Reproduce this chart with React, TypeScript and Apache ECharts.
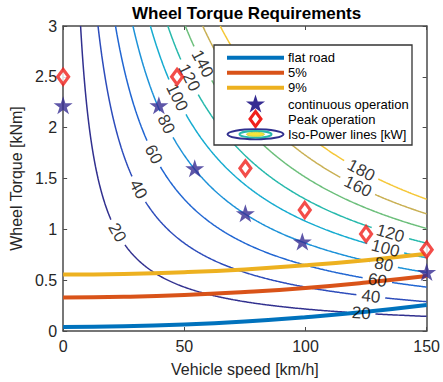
import React, { useEffect, useRef } from "react";
import * as echarts from "echarts";

// ---- data ----
const SPEED_SAMPLES = [0, 25, 50, 75, 100, 125, 150]; // km/h
const FLAT_ROAD = [0.04, 0.046, 0.064, 0.094, 0.136, 0.189, 0.255]; // kNm
const SLOPE_5 = [0.33, 0.336, 0.353, 0.383, 0.423, 0.476, 0.54];
const SLOPE_9 = [0.555, 0.561, 0.578, 0.606, 0.646, 0.697, 0.76];

const CONT_SPEED = [0, 39.5, 54.3, 75.2, 98.7, 150];
const CONT_TORQUE = [2.22, 2.22, 1.6, 1.157, 0.88, 0.58];
const PEAK_SPEED = [0, 47, 75.2, 99.7, 125, 150];
const PEAK_TORQUE = [2.5, 2.5, 1.6, 1.19, 0.954, 0.8];

const POWER_LEVELS = [20, 40, 60, 80, 100, 120, 140, 160, 180]; // kW
const LEVEL_COLORS = ["#31308f", "#2d4cbb", "#2166d2", "#1d92d8", "#17acd0", "#27b9ac", "#6cbf7b", "#c9b054", "#f5c737"];
const LABEL_SPEEDS: number[][] = [[22.3, 123], [31, 127], [37.3, 129.7], [42.5, 132.3], [47, 133], [52, 135], [57.5], [121.6], [123]];
const WHEEL_RADIUS = 0.3; // m

const X_TICKS = { min: 0, max: 150, interval: 50 };
const Y_TICKS = { min: 0, max: 3, interval: 0.5 };

// ---- layout ----
const W = 443, H = 382;
const GRID = { left: 60.5, right: 11, top: 26, bottom: 49 };
const PX_PER_KMH = (W - GRID.left - GRID.right) / X_TICKS.max;
const PX_PER_KNM = (H - GRID.top - GRID.bottom) / Y_TICKS.max;
const FONT = "'Liberation Sans', Arial, Helvetica, sans-serif";
const LABEL_FONT = 17;
const AXIS_COLOR = "#4a4a4a";
const TEXT_COLOR = "#262626";

// iso-power relation: P[kW] = T[kNm] * v/(3.6 r)
const isoTorque = (p: number, v: number) => (p * 3.6 * WHEEL_RADIUS) / v;
const isoSpeed = (p: number, t: number) => (p * 3.6 * WHEEL_RADIUS) / t;

function isoCurve(p: number, labelSpeeds: number[]) {
  const v0 = isoSpeed(p, Y_TICKS.max);
  const N = 600;
  const radius = (String(p).length * 0.556 * LABEL_FONT) / 2 + 5;
  const centers = labelSpeeds.map((v) => [v, isoTorque(p, v)]);
  const pts: any[] = [];
  for (let i = 0; i <= N; i++) {
    const v = v0 * Math.pow(X_TICKS.max / v0, i / N);
    const t = isoTorque(p, v);
    const gap = centers.some(([cv, ct]) => Math.hypot((v - cv) * PX_PER_KMH, (t - ct) * PX_PER_KNM) < radius);
    pts.push(gap ? [v, "-"] : [v, t]);
  }
  return pts;
}

function starPoints(cx: number, cy: number, r: number) {
  const pts: number[][] = [];
  for (let i = 0; i < 10; i++) {
    const rr = i % 2 === 0 ? r : r * 0.382;
    const a = -Math.PI / 2 + (i * Math.PI) / 5;
    pts.push([cx + rr * Math.cos(a), cy + rr * Math.sin(a)]);
  }
  return pts;
}
const STAR_PATH =
  "path://" +
  starPoints(50, 50, 50)
    .map((p, i) => (i === 0 ? "M" : "L") + p[0].toFixed(2) + " " + p[1].toFixed(2))
    .join(" ") +
  " Z";

export default function App() {
  const ref = useRef<HTMLDivElement>(null);
  useEffect(() => {
    document.body.style.margin = "0";
    const chart = echarts.init(ref.current!, null, { renderer: "svg" });

    const contourSeries = POWER_LEVELS.map((p, i) => ({
      type: "line",
      name: "iso" + p,
      data: isoCurve(p, LABEL_SPEEDS[i]),
      showSymbol: false,
      symbol: "none",
      connectNulls: false,
      lineStyle: { color: LEVEL_COLORS[i], width: 1.5 },
      z: 2,
      silent: true,
    }));

    const labelData: any[] = [];
    POWER_LEVELS.forEach((p, i) => {
      LABEL_SPEEDS[i].forEach((v) => {
        const slope = ((p * 3.6 * WHEEL_RADIUS) / (v * v)) * PX_PER_KNM / PX_PER_KMH;
        const ang = (Math.atan(slope) * 180) / Math.PI;
        labelData.push({
          value: [v, isoTorque(p, v)],
          label: { show: true, formatter: String(p), rotate: -ang },
        });
      });
    });

    const road = (name: string, data: number[], color: string) => ({
      type: "line",
      name,
      data: SPEED_SAMPLES.map((v, i) => [v, data[i]]),
      smooth: true,
      showSymbol: false,
      symbol: "none",
      lineStyle: { color, width: 4 },
      z: 4,
      silent: true,
    });

    const lx = 227, lx2 = 284, tx = 288;
    const rows = [57.7, 72.7, 87.7, 104, 119, 134.3];
    const legendText = ["flat road", "5%", "9%", "continuous operation", "Peak operation", "Iso-Power lines [kW]"];
    const cx = (lx + lx2) / 2;
    const LZ = 100;

    const option: any = {
      animation: false,
      title: {
        text: "Wheel Torque Requirements",
        left: 132,
        top: 5,
        padding: 0,
        textStyle: { fontFamily: FONT, fontSize: 17, fontWeight: "bold", color: "#000" },
      },
      grid: { ...GRID, containLabel: false },
      xAxis: [
        {
          type: "value", ...X_TICKS, position: "bottom",
          axisLine: { show: true, onZero: false, lineStyle: { color: AXIS_COLOR, width: 1.5 } },
          axisTick: { show: true, inside: true, length: 4, lineStyle: { color: AXIS_COLOR } },
          axisLabel: { color: TEXT_COLOR, fontSize: 16, fontFamily: FONT, margin: 7 },
          splitLine: { show: false },
          name: "Vehicle speed [km/h]", nameLocation: "middle", nameGap: 30,
          nameTextStyle: { color: TEXT_COLOR, fontSize: 16, fontFamily: FONT },
        },
        {
          type: "value", ...X_TICKS, position: "top",
          axisLine: { show: true, onZero: false, lineStyle: { color: AXIS_COLOR, width: 1.5 } },
          axisTick: { show: true, inside: true, length: 4, lineStyle: { color: AXIS_COLOR } },
          axisLabel: { show: false }, splitLine: { show: false },
        },
      ],
      yAxis: [
        {
          type: "value", ...Y_TICKS, position: "left",
          axisLine: { show: true, onZero: false, lineStyle: { color: AXIS_COLOR, width: 1.5 } },
          axisTick: { show: true, inside: true, length: 4, lineStyle: { color: AXIS_COLOR } },
          axisLabel: { color: TEXT_COLOR, fontSize: 16, fontFamily: FONT, margin: 6 },
          splitLine: { show: false },
          name: "Wheel Torque [kNm]", nameLocation: "middle", nameGap: 35,
          nameTextStyle: { color: TEXT_COLOR, fontSize: 16, fontFamily: FONT },
        },
        {
          type: "value", ...Y_TICKS, position: "right",
          axisLine: { show: true, onZero: false, lineStyle: { color: AXIS_COLOR, width: 1.5 } },
          axisTick: { show: true, inside: true, length: 4, lineStyle: { color: AXIS_COLOR } },
          axisLabel: { show: false }, splitLine: { show: false },
        },
      ],
      series: [
        ...contourSeries,
        road("flat road", FLAT_ROAD, "#0072bd"),
        road("5%", SLOPE_5, "#d95319"),
        road("9%", SLOPE_9, "#edb120"),
        {
          type: "scatter",
          name: "contour labels",
          data: labelData,
          symbolSize: 1,
          itemStyle: { color: "rgba(0,0,0,0)" },
          label: { show: true, position: "inside", color: "#000", fontSize: LABEL_FONT, fontFamily: FONT, align: "center", verticalAlign: "middle" },
          z: 4.5,
          silent: true,
        },
        {
          type: "scatter",
          name: "continuous operation",
          data: CONT_SPEED.map((v, i) => [v, CONT_TORQUE[i]]),
          symbol: STAR_PATH,
          symbolSize: [19, 18],
          itemStyle: { color: "#362c92" },
          clip: false,
          z: 5,
        },
        {
          type: "scatter",
          name: "Peak operation",
          data: PEAK_SPEED.map((v, i) => [v, PEAK_TORQUE[i]]),
          symbol: "diamond",
          symbolSize: [11, 15],
          itemStyle: { color: "#ffffff", borderColor: "#f0201c", borderWidth: 3.2 },
          clip: false,
          z: 6,
        },
      ],
      graphic: [
        { type: "rect", z: LZ, shape: { x: 214, y: 45, width: 198, height: 100 }, style: { fill: "#fff", stroke: "#333", lineWidth: 1.3 } },
        { type: "line", z: LZ + 1, shape: { x1: lx, y1: rows[0], x2: lx2, y2: rows[0] }, style: { stroke: "#0072bd", lineWidth: 4 } },
        { type: "line", z: LZ + 1, shape: { x1: lx, y1: rows[1], x2: lx2, y2: rows[1] }, style: { stroke: "#d95319", lineWidth: 4 } },
        { type: "line", z: LZ + 1, shape: { x1: lx, y1: rows[2], x2: lx2, y2: rows[2] }, style: { stroke: "#edb120", lineWidth: 4 } },
        { type: "polygon", z: LZ + 1, shape: { points: starPoints(cx, rows[3] + 0.5, 10) }, style: { fill: "#362c92" } },
        { type: "polygon", z: LZ + 1, shape: { points: [[cx, rows[4] - 7.5], [cx + 5.5, rows[4]], [cx, rows[4] + 7.5], [cx - 5.5, rows[4]]] }, style: { fill: "#fff", stroke: "#f0201c", lineWidth: 3 } },
        { type: "ellipse", z: LZ + 1, shape: { cx, cy: rows[5], rx: 28, ry: 5 }, style: { fill: "none", stroke: "#31308f", lineWidth: 2 } },
        { type: "ellipse", z: LZ + 1, shape: { cx, cy: rows[5], rx: 16, ry: 3.3 }, style: { fill: "none", stroke: "#27b9ac", lineWidth: 2 } },
        { type: "ellipse", z: LZ + 1, shape: { cx, cy: rows[5], rx: 9, ry: 2 }, style: { fill: "#f7e43a", stroke: "#c9d84a", lineWidth: 1 } },
        ...legendText.map((t, i) => ({
          type: "text",
          z: LZ + 1,
          x: tx,
          y: rows[i],
          style: { text: t, fill: "#000", font: "13px " + FONT, verticalAlign: "middle" },
        })),
      ],
    };
    chart.setOption(option);
    return () => chart.dispose();
  }, []);
  return <div ref={ref} style={{ width: W, height: H }} />;
}
